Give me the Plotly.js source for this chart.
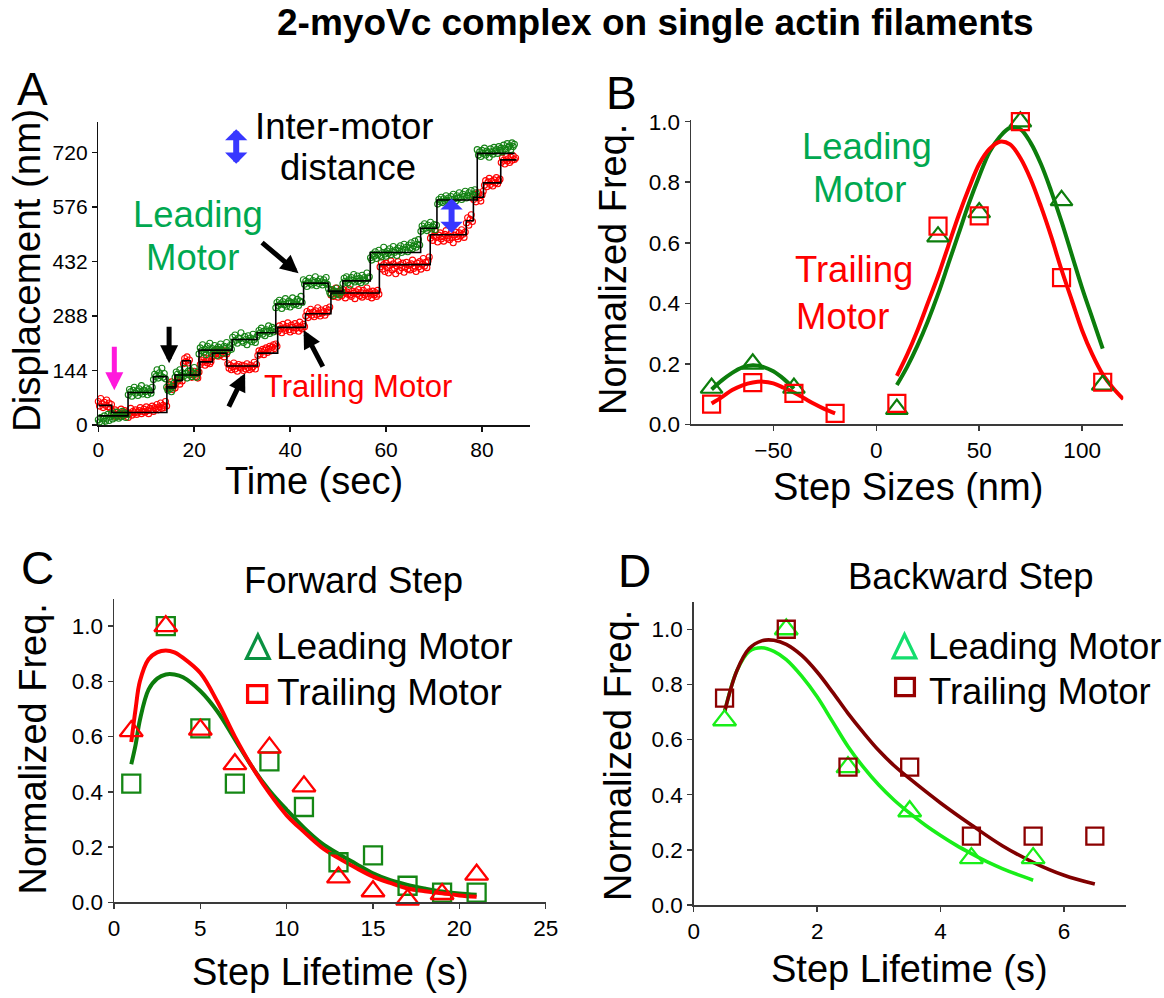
<!DOCTYPE html>
<html><head><meta charset="utf-8">
<script src="https://cdn.plot.ly/plotly-3.0.1.min.js"></script>
<style>html,body{margin:0;padding:0;background:#fff;}#chart{width:1164px;height:998px;}</style>
</head><body><div id="chart"></div>
<script>
// ---------------- Panel A : displacement traces (one sample every 0.25 s) ----------------
const frameInterval = 0.25; // s
const leadingDisp = [
 14,8,20,4,16,24,10,18,28,12,22,30,16,26,20,34,24,18,30,22,36,26,32,20,28,
 80,94,88,76,92,100,84,90,78,96,86,104,82,92,88,98,80,94,90,84,100,
 120,134,128,146,124,138,130,150,126,136,122,
 100,92,106,96,88,102,110,
 126,140,134,122,146,130,138,128,150,136,124,142,132,144,128,138,152,134,126,140,
 188,204,196,212,192,200,186,208,198,216,190,202,194,210,200,184,206,196,214,198,190,208,202,218,194,204,210,200,
 232,220,238,224,216,230,228,244,222,218,234,226,212,236,224,230,220,240,226,218,232,
 238,250,244,256,240,248,236,252,246,262,242,250,258,246,254,
 310,324,316,330,320,308,326,318,334,314,322,328,312,324,336,318,326,320,332,316,328,340,324,
 384,372,380,366,378,388,374,370,382,376,392,368,380,374,386,378,370,384,376,390,372,
 360,350,346,358,342,354,350,362,348,344,356,352,
 374,388,380,392,376,384,370,390,382,398,378,386,394,380,388,376,396,384,390,380,402,388,392,
 442,436,452,446,458,440,450,462,448,444,456,470,452,446,460,454,466,450,458,472,456,462,448,468,460,474,456,464,478,462,470,458,476,468,482,466,474,486,470,478,490,476,
 512,526,518,532,520,514,528,522,536,518,524,530,516,528,
 584,596,590,602,588,598,592,606,594,600,588,604,596,610,598,592,606,600,614,602,596,610,604,618,600,608,614,604,620,610,606,622,614,
 728,714,722,710,726,718,732,714,724,720,708,730,722,716,734,724,728,718,736,726,732,722,740,730,726,744,734,738,728,746,736,742];
const trailingDisp = [
 62,50,70,56,46,60,52,66,48,58,44,54,
 36,28,40,22,34,30,26,42,32,24,38,28,34,20,30,44,26,36,32,40,28,34,38,46,30,36,42,34,48,38,30,44,40,50,36,46,42,54,40,48,58,44,52,46,62,50,
 96,108,100,114,94,104,98,
 112,124,118,108,126,116,
 162,176,168,180,164,172,
 138,126,134,142,128,136,124,140,
 160,172,166,178,158,170,164,176,162,168,180,
 184,196,188,200,182,194,186,198,190,180,196,188,
 162,150,158,146,154,164,148,156,142,160,152,150,158,144,156,148,162,152,146,158,150,154,166,148,160,
 184,196,188,194,200,186,198,204,192,200,208,196,206,212,202,214,208,
 248,262,254,244,266,256,250,260,270,252,246,264,258,250,268,256,262,248,272,258,254,266,260,
 288,300,284,296,306,290,298,286,302,292,310,294,288,304,296,300,290,308,298,304,312,
 344,356,340,350,362,346,338,354,348,342,358,350,336,352,346,360,344,340,354,348,334,352,346,358,342,350,338,356,344,348,362,340,352,346,336,354,344,350,340,356,346,
 418,430,412,424,406,428,416,402,422,434,410,426,414,400,420,432,408,424,416,428,404,418,430,412,422,410,426,436,414,420,406,428,418,432,412,424,440,420,430,416,434,444,
 494,506,488,500,512,496,484,502,508,492,498,486,504,514,494,500,490,506,496,482,502,510,498,492,508,500,516,504,496,510,
 534,548,528,544,556,538,
 596,610,590,604,614,600,592,608,618,
 634,646,630,642,652,636,644,632,648,640,654,638,646,650,
 694,706,700,690,710,698,704,694,708,700,712,702,706];
const leadingStepStart = [0,6.2,11.5,14.3,16.0,21.0,27.9,33.1,37.0,42.8,48.0,51.0,56.7,67.2,70.6,79.0];
const leadingStepLevel = [24,86,128,98,132,198,226,244,320,375,354,381,456,520,595,718];
const leadingTraceEnd = 86.8;
const trailingStepStart = [0,2.8,14.3,16.2,17.5,19.2,21.2,23.8,26.8,33.2,37.4,43.2,48.5,58.6,69.2,76.7,78.2,80.3,83.9];
const trailingStepLevel = [52,33,101,118,170,132,167,190,156,190,258,294,349,424,503,540,602,640,701];
const trailingTraceEnd = 87.2;
const dispTicks = [0,144,288,432,576,720];

// ---------------- Panel B : step size histograms ----------------
const stepBinsLeading = [-80,-60,-40,10,30,50,70,90,110];
const stepFreqLeading = [0.12,0.20,0.12,0.05,0.62,0.70,1.0,0.74,0.13];
const stepBinsTrailing = [-80,-60,-40,-20,10,30,50,70,90,110];
const stepFreqTrailing = [0.067,0.138,0.102,0.036,0.069,0.655,0.689,1.0,0.485,0.139];
const fitBackLeadX = [-80,-75,-70,-65,-60,-55,-50,-45,-40];
const fitBackLeadY = [0.115,0.145,0.17,0.188,0.195,0.19,0.175,0.15,0.118];
const fitFwdLeadX = [10,15,20,25,30,35,40,45,50,55,60,65,70,75,80,85,90,95,100,105,110];
const fitFwdLeadY = [0.13,0.19,0.26,0.34,0.43,0.53,0.63,0.73,0.82,0.90,0.95,0.98,0.975,0.93,0.86,0.77,0.67,0.56,0.45,0.35,0.25];
const fitBackTrailX = [-80,-75,-70,-65,-60,-55,-50,-45,-40,-35,-30,-25,-20];
const fitBackTrailY = [0.069,0.09,0.113,0.129,0.138,0.141,0.135,0.121,0.105,0.086,0.067,0.05,0.036];
const fitFwdTrailX = [10,15,20,25,30,35,40,45,50,55,60,65,70,75,80,85,90,95,100,105,110,115,120];
const fitFwdTrailY = [0.16,0.23,0.31,0.40,0.49,0.59,0.69,0.78,0.86,0.91,0.934,0.925,0.88,0.81,0.72,0.62,0.51,0.41,0.31,0.23,0.165,0.12,0.083];

// ---------------- Panel C : forward step lifetimes ----------------
const fwdLifetime = [1,3,5,7,9,11,13,15,17,19,21];
const fwdFreqSquares = [0.43,1.0,0.63,0.43,0.51,0.345,0.145,0.17,0.06,0.035,0.035];
const fwdFreqTriangles = [0.62,1.0,0.625,0.50,0.56,0.42,0.09,0.04,0.01,0.03,0.10];
const fwdFitX = [1,1.25,1.5,2,2.5,3,3.5,4,5,6,7,8,9,10,11,12,13,14,15,16,17,18,19,20,21];
const fwdFitGreen = [0.50,0.57,0.66,0.77,0.81,0.825,0.825,0.815,0.765,0.69,0.59,0.49,0.405,0.335,0.27,0.215,0.175,0.14,0.105,0.08,0.063,0.05,0.039,0.032,0.027];
const fwdFitRed = [0.58,0.70,0.80,0.88,0.905,0.912,0.905,0.885,0.83,0.725,0.60,0.49,0.395,0.315,0.255,0.20,0.16,0.125,0.093,0.07,0.05,0.04,0.033,0.025,0.02];

// ---------------- Panel D : backward step lifetimes ----------------
const bwdLifetimeLead = [0.5,1.5,2.5,3.5,4.5,5.5];
const bwdFreqLead = [0.67,1.0,0.50,0.34,0.17,0.17];
const bwdLifetimeTrail = [0.5,1.5,2.5,3.5,4.5,5.5,6.5];
const bwdFreqTrail = [0.75,1.0,0.50,0.50,0.25,0.25,0.25];
const bwdFitLeadX = [0.5,0.7,0.9,1.1,1.3,1.5,1.75,2,2.25,2.5,2.75,3,3.25,3.5,3.75,4,4.25,4.5,4.75,5,5.25,5.5];
const bwdFitLeadY = [0.70,0.85,0.92,0.933,0.92,0.89,0.83,0.755,0.665,0.575,0.50,0.435,0.38,0.333,0.29,0.252,0.217,0.186,0.157,0.132,0.11,0.09];
const bwdFitTrailX = [0.5,0.7,0.9,1.1,1.3,1.5,1.75,2,2.25,2.5,2.75,3,3.25,3.5,4,4.5,5,5.5,6,6.5];
const bwdFitTrailY = [0.70,0.85,0.93,0.958,0.96,0.945,0.905,0.845,0.772,0.695,0.625,0.56,0.505,0.458,0.37,0.29,0.215,0.155,0.108,0.076];

// ---------------- layout helpers ----------------
const W = 1164, H = 998;
const FONT = 'Liberation Sans, Arial, Helvetica, sans-serif';
const X = px => px / W;
const Y = py => 1 - py / H;
const GREEN_DK = 'rgb(12,125,12)';
const GREEN_TXT = 'rgb(0,168,80)';
const RED = 'rgb(255,0,0)';
const LIME = 'rgb(25,238,25)';
const MAROON = 'rgb(128,0,0)';

function axis(extra) {
  return Object.assign({
    showline: true, linecolor: '#3a3a3a', linewidth: 1.5,
    ticks: 'outside', ticklen: 5, tickwidth: 1.5, tickcolor: '#3a3a3a',
    showgrid: false, zeroline: false, fixedrange: true,
    tickfont: {family: FONT, size: 22.5, color: '#000'}
  }, extra);
}
function txt(text, xpx, ypx, size, color, extra) {
  return Object.assign({text: text, xref: 'paper', yref: 'paper', x: X(xpx), y: Y(ypx),
    xanchor: 'center', yanchor: 'middle', showarrow: false,
    font: {family: FONT, size: size, color: color || '#000'}}, extra || {});
}
function arrow(xv, yv, ax, ay, color, width) {
  return {xref: 'x', yref: 'y', x: xv, y: yv, ax: ax, ay: ay, text: '', showarrow: true,
    arrowhead: 2, arrowsize: 0.72, arrowwidth: width, arrowcolor: color, standoff: 0};
}
function doubleArrow(xv, yv, ax, ay, color) {
  return {xref: 'x', yref: 'y', x: xv, y: yv, ax: ax, ay: ay, text: '', showarrow: true,
    arrowside: 'end+start', arrowhead: 1, startarrowhead: 1, arrowsize: 0.62, startarrowsize: 0.62,
    arrowwidth: 6, arrowcolor: color, standoff: 0, startstandoff: 0};
}

const leadingTimes = leadingDisp.map((_, i) => i * frameInterval);
const trailingTimes = trailingDisp.map((_, i) => i * frameInterval);

const traces = [
  // Panel A
  {x: trailingTimes, y: trailingDisp, mode: 'markers', xaxis: 'x', yaxis: 'y', cliponaxis: false,
   marker: {symbol: 'circle-open', size: 6, color: RED, line: {width: 1.1, color: RED}}},
  {x: leadingTimes, y: leadingDisp, mode: 'markers', xaxis: 'x', yaxis: 'y', cliponaxis: false,
   marker: {symbol: 'circle-open', size: 6, color: 'rgb(20,130,20)', line: {width: 1.1, color: 'rgb(20,130,20)'}}},
  {x: trailingStepStart.concat([trailingTraceEnd]), y: trailingStepLevel.concat([trailingStepLevel[trailingStepLevel.length-1]]),
   mode: 'lines', line: {shape: 'hv', color: '#000', width: 1.6}, xaxis: 'x', yaxis: 'y'},
  {x: leadingStepStart.concat([leadingTraceEnd]), y: leadingStepLevel.concat([leadingStepLevel[leadingStepLevel.length-1]]),
   mode: 'lines', line: {shape: 'hv', color: '#000', width: 1.6}, xaxis: 'x', yaxis: 'y'},
  // Panel B
  {x: fitBackLeadX, y: fitBackLeadY, mode: 'lines', line: {shape: 'spline', color: GREEN_DK, width: 4}, xaxis: 'x2', yaxis: 'y2'},
  {x: fitFwdLeadX, y: fitFwdLeadY, mode: 'lines', line: {shape: 'spline', color: GREEN_DK, width: 4}, xaxis: 'x2', yaxis: 'y2'},
  {x: fitBackTrailX, y: fitBackTrailY, mode: 'lines', line: {shape: 'spline', color: RED, width: 4}, xaxis: 'x2', yaxis: 'y2'},
  {x: fitFwdTrailX, y: fitFwdTrailY, mode: 'lines', line: {shape: 'spline', color: RED, width: 4}, xaxis: 'x2', yaxis: 'y2'},
  {x: stepBinsLeading, y: stepFreqLeading, mode: 'markers', xaxis: 'x2', yaxis: 'y2', cliponaxis: false,
   marker: {symbol: 'triangle-up-open', size: 19, color: GREEN_DK, line: {width: 2.2, color: GREEN_DK}}},
  {x: stepBinsTrailing, y: stepFreqTrailing, mode: 'markers', xaxis: 'x2', yaxis: 'y2', cliponaxis: false,
   marker: {symbol: 'square-open', size: 17, color: RED, line: {width: 2.2, color: RED}}},
  // Panel C
  {x: fwdFitX, y: fwdFitGreen, mode: 'lines', line: {shape: 'spline', color: GREEN_DK, width: 4}, xaxis: 'x3', yaxis: 'y3'},
  {x: fwdFitX, y: fwdFitRed, mode: 'lines', line: {shape: 'spline', color: RED, width: 4}, xaxis: 'x3', yaxis: 'y3'},
  {x: fwdLifetime, y: fwdFreqSquares, mode: 'markers', xaxis: 'x3', yaxis: 'y3', cliponaxis: false,
   marker: {symbol: 'square-open', size: 18, color: 'rgb(20,135,20)', line: {width: 2.3, color: 'rgb(20,135,20)'}}},
  {x: fwdLifetime, y: fwdFreqTriangles, mode: 'markers', xaxis: 'x3', yaxis: 'y3', cliponaxis: false,
   marker: {symbol: 'triangle-up-open', size: 20, color: RED, line: {width: 2.3, color: RED}}},
  // Panel D
  {x: bwdFitLeadX, y: bwdFitLeadY, mode: 'lines', line: {shape: 'spline', color: LIME, width: 3.6}, xaxis: 'x4', yaxis: 'y4'},
  {x: bwdFitTrailX, y: bwdFitTrailY, mode: 'lines', line: {shape: 'spline', color: MAROON, width: 3.6}, xaxis: 'x4', yaxis: 'y4'},
  {x: bwdLifetimeLead, y: bwdFreqLead, mode: 'markers', xaxis: 'x4', yaxis: 'y4', cliponaxis: false,
   marker: {symbol: 'triangle-up-open', size: 20, color: LIME, line: {width: 2.3, color: LIME}}},
  {x: bwdLifetimeTrail, y: bwdFreqTrail, mode: 'markers', xaxis: 'x4', yaxis: 'y4', cliponaxis: false,
   marker: {symbol: 'square-open', size: 17, color: 'rgb(140,0,0)', line: {width: 2.3, color: 'rgb(140,0,0)'}}}
];

const layout = {
  width: W, height: H, margin: {l: 0, r: 0, t: 0, b: 0},
  paper_bgcolor: '#fff', plot_bgcolor: 'rgba(0,0,0,0)', showlegend: false,
  font: {family: FONT, color: '#000'},
  xaxis: axis({domain: [X(98.3), X(530)], range: [0, 90], tickvals: [0,20,40,60,80], anchor: 'y',
    linecolor: '#111', tickcolor: '#111', tickfont: {family: FONT, size: 21, color: '#000'}}),
  yaxis: axis({domain: [Y(425), Y(122.4)], range: [0, 800], tickvals: dispTicks, anchor: 'x',
    linecolor: '#111', tickcolor: '#111', tickfont: {family: FONT, size: 21, color: '#000'}}),
  xaxis2: axis({domain: [X(691), X(1123.3)], range: [-90, 120], tickvals: [-50,0,50,100], anchor: 'y2'}),
  yaxis2: axis({domain: [Y(424.3), Y(120.2)], range: [0, 1.005], tickvals: [0,0.2,0.4,0.6,0.8,1.0], tickformat: '.1f', anchor: 'x2'}),
  xaxis3: axis({domain: [X(114), X(545.7)], range: [0, 25], tickvals: [0,5,10,15,20,25], anchor: 'y3'}),
  yaxis3: axis({domain: [Y(902.3), Y(599.3)], range: [0, 1.097], tickvals: [0,0.2,0.4,0.6,0.8,1.0], tickformat: '.1f', anchor: 'x3'}),
  xaxis4: axis({domain: [X(693.7), X(1125.7)], range: [0, 7], tickvals: [0,2,4,6], anchor: 'y4'}),
  yaxis4: axis({domain: [Y(905), Y(601.7)], range: [0, 1.1], tickvals: [0,0.2,0.4,0.6,0.8,1.0], tickformat: '.1f', anchor: 'x4'}),
  annotations: [
    txt('<b>2-myoVc complex on single actin filaments</b>', 655, 23, 37),
    txt('A', 32, 89, 46), txt('B', 621, 93, 46), txt('C', 37, 568, 46), txt('D', 634, 571, 46),
    // axis titles
    txt('Displacement (nm)', 26, 271, 38.5, '#000', {textangle: -90}),
    txt('Time (sec)', 314, 481, 38),
    txt('Normalized Freq.', 613, 270, 38, '#000', {textangle: -90}),
    txt('Step Sizes (nm)', 908, 487, 38),
    txt('Normalized Freq.', 32.5, 749, 38, '#000', {textangle: -90}),
    txt('Step Lifetime (s)', 330.5, 972, 38),
    txt('Normalized Freq.', 618, 756, 38, '#000', {textangle: -90}),
    txt('Step Lifetime (s)', 909, 969, 38),
    // panel A labels
    txt('Inter-motor', 344, 126, 36.5), txt('distance', 348, 168, 36.5),
    txt('Leading', 198, 215, 36.5, GREEN_TXT), txt('Motor', 192, 258, 36.5, GREEN_TXT),
    txt('Trailing Motor', 358, 386, 31, RED),
    arrow(14.76, 163, 0, -38, '#000', 5),
    arrow(3.34, 92, 0, -45, 'rgb(255,25,220)', 5),
    arrow(30.6, 137, -17, 35, '#000', 5),
    arrow(42.8, 251, 20, 38, '#000', 5),
    arrow(41.75, 401, -38, -32, '#000', 5),
    doubleArrow(28.75, 782, 0, 36, 'rgb(55,55,255)'),
    doubleArrow(73.65, 599, 0, 36, 'rgb(55,55,255)'),
    // panel B labels
    txt('Leading', 867, 147, 36.5, GREEN_TXT), txt('Motor', 859, 189, 36.5, GREEN_TXT),
    txt('Trailing', 793, 270, 36.5, RED, {xanchor: 'left'}), txt('Motor', 794, 316, 36.5, RED, {xanchor: 'left'}),
    // panel C
    txt('Forward Step', 353, 580, 36.5),
    txt('Leading Motor', 274, 646, 37, '#000', {xanchor: 'left'}),
    txt('Trailing Motor', 275, 692, 37, '#000', {xanchor: 'left'}),
    // panel D
    txt('Backward Step', 970, 576, 36.5),
    txt('Leading Motor', 926, 646, 36.5, '#000', {xanchor: 'left'}),
    txt('Trailing Motor', 927, 691, 36.5, '#000', {xanchor: 'left'})
  ],
  shapes: [
    {type: 'path', xref: 'paper', yref: 'paper', line: {color: 'rgb(10,145,65)', width: 3.2},
     path: `M${X(246.5)},${Y(658.5)} L${X(269.2)},${Y(658.5)} L${X(257.9)},${Y(635)} Z`},
    {type: 'rect', xref: 'paper', yref: 'paper', line: {color: RED, width: 3.3},
     x0: X(247.6), x1: X(266.7), y0: Y(685.6), y1: Y(702.4)},
    {type: 'path', xref: 'paper', yref: 'paper', line: {color: 'rgb(20,222,110)', width: 3.2},
     path: `M${X(893.2)},${Y(657.8)} L${X(915.8)},${Y(657.8)} L${X(904.5)},${Y(634.5)} Z`},
    {type: 'rect', xref: 'paper', yref: 'paper', line: {color: 'rgb(150,0,0)', width: 3.3},
     x0: X(895.6), x1: X(914.4), y0: Y(678.3), y1: Y(695.7)}
  ]
};

Plotly.newPlot('chart', traces, layout, {staticPlot: true, displayModeBar: false});
</script>
</body></html>
